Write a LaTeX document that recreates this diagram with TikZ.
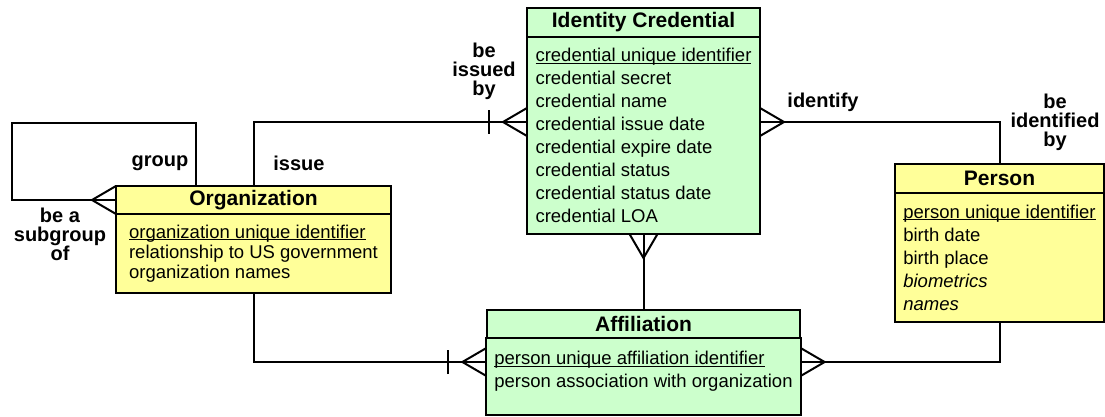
\documentclass[tikz,border=0pt]{standalone}
\usepackage{fontspec}
\setmainfont{Liberation Sans}
\usetikzlibrary{positioning}

\definecolor{entgreen}{RGB}{204,255,204}
\definecolor{entyellow}{RGB}{255,255,153}

\newcommand\keyattr[1]{\setbox0\hbox{#1}\rlap{\rule[-2.2pt]{\wd0}{1.2pt}}\box0}

\tikzset{
  enthead/.style={draw, line width=2pt, outer sep=0pt, inner sep=0pt,
    font=\fontsize{21}{24}\selectfont\bfseries},
  entbody/.style={draw, line width=2pt, outer sep=0pt, inner xsep=8pt,
    align=left, font=\fontsize{18.5}{23}\selectfont},
  conn/.style={line width=2pt},
  relname/.style={inner sep=0pt, align=center, font=\fontsize{20}{19}\selectfont\bfseries},
  many/.pic={\draw[conn] (0,-14) -- (24,0) -- (0,14);},
  one/.pic={\draw[conn] (38,-12) -- (38,12);}
}

\begin{document}
\begin{tikzpicture}[x=1pt,y=-1pt]
\useasboundingbox (0,0) rectangle (1105,417);

\node[enthead, fill=entgreen, minimum width=233, minimum height=29] (credhead) at (643.5,22.5) {Identity Credential};
\node[entbody, fill=entgreen, minimum width=233, minimum height=197, below=0pt of credhead] (credbody)
  {\keyattr{credential unique identifier}\\ credential secret\\ credential name\\ credential issue date\\
   credential expire date\\ credential status\\ credential status date\\ credential LOA};

\node[enthead, fill=entyellow, minimum width=275, minimum height=28] (orghead) at (253.5,200) {Organization};
\node[entbody, fill=entyellow, minimum width=275, minimum height=79, below=0pt of orghead,
  font=\fontsize{18.5}{20}\selectfont] (orgbody)
  {\keyattr{organization unique identifier}\\ relationship to US government\\ organization names};

\node[enthead, fill=entyellow, minimum width=209, minimum height=29] (personhead) at (999.5,178.5) {Person};
\node[entbody, fill=entyellow, minimum width=209, minimum height=129, below=0pt of personhead] (personbody)
  {\keyattr{person unique identifier}\\ birth date\\ birth place\\ \textit{biometrics}\\ \textit{names}};

\node[enthead, fill=entgreen, minimum width=313, minimum height=28] (affhead) at (643.5,324) {Affiliation};
\node[entbody, fill=entgreen, minimum width=313, minimum height=77, below=0pt of affhead] (affbody)
  {\keyattr{person unique affiliation identifier}\\ person association with organization\\[-9pt]\mbox{}};

\draw[conn] (orghead.west) -- ++(-104,0) |- (196,123) -- (orghead.north -| 196,0);
\pic[rotate=180] at (orghead.west) {many};

\draw[conn] (orghead.north) |- (credbody.west |- 0,122);
\pic[rotate=180] at (credbody.west |- 0,122) {many};
\pic[rotate=180] at (credbody.west |- 0,122) {one};

\draw[conn] (credbody.east |- 0,122) -| (personhead.north);
\pic at (credbody.east |- 0,122) {many};

\draw[conn] (credbody.south) -- (affhead.north);
\pic[rotate=-90] at (credbody.south) {many};

\draw[conn] (orgbody.south) |- (affbody.west |- 0,362);
\pic[rotate=180] at (affbody.west |- 0,362) {many};
\pic[rotate=180] at (affbody.west |- 0,362) {one};

\draw[conn] (affbody.east |- 0,362) -| (personbody.south);
\pic at (affbody.east |- 0,362) {many};

\node[relname] (lgroup) at (160,163) {group};
\node[relname] (lsubgroup) at (60,234) {be a\\subgroup\\of};
\node[relname] (lissue) at (299,163) {issue};
\node[relname] (lissuedby) at (484,71) {be\\issued\\by};
\node[relname] (lidentify) at (823,102) {identify};
\node[relname] (lidentified) at (1055,122) {be\\identified\\by};
\end{tikzpicture}
\end{document}
